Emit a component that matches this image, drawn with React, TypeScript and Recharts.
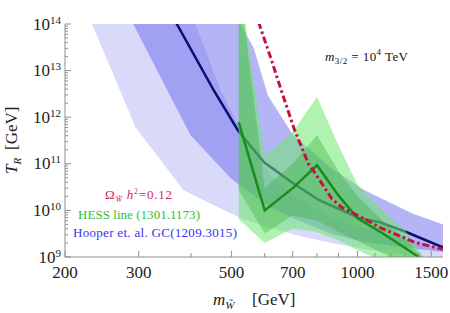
import React from "react";
import { ComposedChart, Area, Line, XAxis, YAxis } from "recharts";

const W = 450;
const H = 313;
const SERIF = "Liberation Serif, Times New Roman, Times, serif";
const FRAME = "#8f8f8f";

// axes
const xTicks = [200, 300, 400, 500, 600, 700, 800, 900, 1000, 1100, 1200, 1300, 1400, 1500];
const xLabels = [200, 300, 500, 700, 1000, 1500];
const yDecades = [9, 10, 11, 12, 13, 14];
const yMinor = [2, 3, 4, 5, 6, 7, 8, 9];

// Hooper et al. GC, wide light band (mass GeV, T_R GeV)
const gcWideMass = [232, 295, 384, 410, 471, 526, 621, 733, 866, 1080, 1348, 1617];
const gcWideLow = [1e14, 6.0e11, 2.7e10, 2.0e10, 1.1e10, 6.8e9, 4.2e9, 2.8e9, 2.0e9, 1.4e9, 1.05e9, 8.5e8];
const gcWideHigh = [1e16, 1e16, 5e14, 1e14, 3.8e12, 5.2e11, 5.6e10, 1.65e10, 7.1e9, 3.7e9, 2.3e9, 1.4e9];

// Hooper et al. GC, second band
const gcMidMass = [291, 399, 498, 526, 565, 611, 702, 866, 1039, 1348, 1617];
const gcMidLow = [1e14, 4.1e11, 4.9e10, 3.3e10, 2.1e10, 1.23e10, 6.8e9, 3.1e9, 2.1e9, 1.55e9, 1.26e9];
const gcMidHigh = [1e16, 1e16, 3e14, 1e14, 3.0e13, 2.9e12, 4.1e11, 8.0e10, 2.7e10, 8.7e9, 4.8e9];

// GC best fit line
const gcLineMass = [350, 370, 453, 518, 598, 702, 810, 1011, 1129, 1311, 1617];
const gcLineTR = [2.5e14, 1e14, 3.8e12, 5.2e11, 1.08e11, 3.8e10, 1.65e10, 6.8e9, 5.6e9, 3.4e9, 1.54e9];

// HESS line bands
const hessMass = [520, 600, 700, 800, 900, 1000, 1150, 1300, 1400, 1500];
const hessOuterLow = [6.5e9, 2.0e9, 4.1e9, 3.4e9, 2.3e9, 1.4e9, 8e8, 5e8, 4e8, 3e8];
const hessOuterHigh = [1e15, 1.5e11, 4.8e11, 2.7e12, 2.5e11, 3.5e10, 1.0e10, 3.7e9, 1.4e9, 6e8];
const hessInnerLow = [2.7e10, 3.2e9, 7.9e9, 6e9, 3.5e9, 2.2e9, 1.2e9, 7e8, 5e8, 4e8];
const hessInnerHigh = [1e15, 3e10, 1.0e11, 4.1e11, 7e10, 2.0e10, 6e9, 2.5e9, 1.2e9, 6e8];

// HESS central line
const hessLineMass = [520, 600, 700, 800, 900, 1000, 1150, 1400, 1500];
const hessLineTR = [7.8e11, 1.0e10, 3.0e10, 9.3e10, 2.1e10, 6.8e9, 3.2e9, 1.0e9, 6e8];

// relic abundance Omega h^2 = 0.12
const relicMass = [580, 620, 657, 706, 763, 784, 867, 915, 1022, 1142, 1370, 1600];
const relicTR = [1.1e14, 1.9e13, 3.8e12, 5.5e11, 1.0e11, 7.2e10, 1.8e10, 1.17e10, 7.1e9, 4.1e9, 2.07e9, 1.46e9];

const band = (mass: number[], lo: number[], hi: number[]) =>
  mass.map((m, i) => ({ m, r: [lo[i], hi[i]] }));
const curve = (mass: number[], t: number[]) => mass.map((m, i) => ({ m, t: t[i] }));

const gcWide = band(gcWideMass, gcWideLow, gcWideHigh);
const gcMid = band(gcMidMass, gcMidLow, gcMidHigh);
const gcLine = curve(gcLineMass, gcLineTR);
const hessOuter = band(hessMass, hessOuterLow, hessOuterHigh);
const hessInner = band(hessMass, hessInnerLow, hessInnerHigh);
const hessLine = curve(hessLineMass, hessLineTR);
const relic = curve(relicMass, relicTR);

const yTicks: number[] = [];
yDecades.forEach((d) => {
  yTicks.push(10 ** d);
  if (d < 14) yMinor.forEach((k) => yTicks.push(k * 10 ** d));
});

const isMajorY = (v: number) => {
  const e = Math.log10(v);
  return Math.abs(e - Math.round(e)) < 1e-6;
};

const BottomTick = ({ x, y, payload }: any) => {
  const major = xLabels.includes(payload.value);
  return (
    <g>
      <line x1={x} y1={y} x2={x} y2={y - (major ? 6 : 4)} stroke={FRAME} />
      {major && (
        <text x={x} y={y + 21} textAnchor="middle" style={{ fontFamily: SERIF }} fontSize={17} fill="#222">
          {payload.value}
        </text>
      )}
    </g>
  );
};

const TopTick = ({ x, y, payload }: any) => {
  const major = xLabels.includes(payload.value);
  return <line x1={x} y1={y} x2={x} y2={y + (major ? 6 : 4)} stroke={FRAME} />;
};

const LeftTick = ({ x, y, payload }: any) => {
  const major = isMajorY(payload.value);
  return (
    <g>
      <line x1={x} y1={y} x2={x + (major ? 6 : 3)} y2={y} stroke={FRAME} />
      {major && (
        <text x={x - 4} y={y + 5.5} textAnchor="end" style={{ fontFamily: SERIF }} fontSize={17} fill="#222">
          10
          <tspan dy={-6} fontSize={11}>
            {Math.round(Math.log10(payload.value))}
          </tspan>
        </text>
      )}
    </g>
  );
};

const RightTick = ({ x, y, payload }: any) => {
  const major = isMajorY(payload.value);
  return <line x1={x} y1={y} x2={x - (major ? 6 : 3)} y2={y} stroke={FRAME} />;
};

export default function App() {
  return (
    <div style={{ position: "absolute", left: 0, top: 0, width: W, height: H, background: "#fff" }}>
      <ComposedChart width={W} height={H} margin={{ top: 24, right: 7, bottom: 0, left: 0 }}>
        <XAxis
          xAxisId="b"
          dataKey="m"
          type="number"
          scale="log"
          domain={[200, 1600]}
          allowDataOverflow
          ticks={xTicks}
          interval={0}
          height={56}
          tickSize={0}
          tickMargin={0}
          tickLine={false}
          axisLine={{ stroke: FRAME }}
          tick={<BottomTick />}
        />
        <XAxis
          xAxisId="t"
          orientation="top"
          dataKey="m"
          type="number"
          scale="log"
          domain={[200, 1600]}
          allowDataOverflow
          ticks={xTicks}
          interval={0}
          height={0}
          tickSize={0}
          tickMargin={0}
          tickLine={false}
          axisLine={{ stroke: FRAME }}
          tick={<TopTick />}
        />
        <YAxis
          yAxisId="l"
          type="number"
          scale="log"
          domain={[1e9, 1e14]}
          allowDataOverflow
          ticks={yTicks}
          interval={0}
          width={65}
          tickSize={0}
          tickMargin={0}
          tickLine={false}
          axisLine={{ stroke: FRAME }}
          tick={<LeftTick />}
        />
        <YAxis
          yAxisId="r"
          orientation="right"
          type="number"
          scale="log"
          domain={[1e9, 1e14]}
          allowDataOverflow
          ticks={yTicks}
          interval={0}
          width={0}
          tickSize={0}
          tickMargin={0}
          tickLine={false}
          axisLine={{ stroke: FRAME }}
          tick={<RightTick />}
        />

        <Area xAxisId="b" yAxisId="l" data={gcWide} dataKey="r" type="linear" fill="#b4b4f6" fillOpacity={0.5} stroke="none" isAnimationActive={false} zIndex={100} />
        <Area xAxisId="b" yAxisId="l" data={gcMid} dataKey="r" type="linear" fill="#6a6aee" fillOpacity={0.5} stroke="none" isAnimationActive={false} zIndex={101} />
        <Line xAxisId="b" yAxisId="l" data={gcLine} dataKey="t" type="linear" stroke="#0d0d73" strokeWidth={2.5} dot={false} isAnimationActive={false} zIndex={150} />
        <Area xAxisId="b" yAxisId="l" data={hessOuter} dataKey="r" type="linear" fill="#70e870" fillOpacity={0.55} stroke="none" isAnimationActive={false} zIndex={200} />
        <Area xAxisId="b" yAxisId="l" data={hessInner} dataKey="r" type="linear" fill="#30b030" fillOpacity={0.35} stroke="none" isAnimationActive={false} zIndex={201} />
        <Line xAxisId="b" yAxisId="l" data={hessLine} dataKey="t" type="linear" stroke="#1a8c1a" strokeWidth={2.5} dot={false} isAnimationActive={false} zIndex={400} />
        <Line xAxisId="b" yAxisId="l" data={relic} dataKey="t" type="linear" stroke="#c8103c" strokeWidth={3} strokeDasharray="7 3 2.5 3" dot={false} isAnimationActive={false} zIndex={401} />
      </ComposedChart>

      <svg width={W} height={H} style={{ position: "absolute", left: 0, top: 0, pointerEvents: "none", fontFamily: SERIF }}>
        <text x={325} y={61} fontSize={13} fill="#111" textLength={83} lengthAdjust="spacing">
          <tspan fontStyle="italic">m</tspan>
          <tspan dy={3} fontSize={9}>3/2</tspan>
          <tspan dy={-3}> = 10</tspan>
          <tspan dy={-6} fontSize={9}>4</tspan>
          <tspan dy={6}> TeV</tspan>
        </text>

        <text x={105} y={199} fontSize={13} fill="#d0285a" textLength={67} lengthAdjust="spacing">
          Ω
          <tspan dy={3} fontSize={8} fontStyle="italic">W̃</tspan>
          <tspan dy={-3} fontStyle="italic"> h</tspan>
          <tspan dy={-5} fontSize={8}>2</tspan>
          <tspan dy={5}>=0.12</tspan>
        </text>
        <text x={78} y={219} fontSize={13} fill="#2fbf2f" textLength={122} lengthAdjust="spacing">
          HESS line (1301.1173)
        </text>
        <text x={73} y={237} fontSize={13} fill="#3434f0" textLength={164} lengthAdjust="spacing">
          Hooper et. al. GC(1209.3015)
        </text>

        <text x={213} y={305} fontSize={17} fill="#222">
          <tspan fontStyle="italic">m</tspan>
          <tspan dy={4} fontSize={11} fontStyle="italic">W̃</tspan>
          <tspan dy={-4} x={252}>[GeV]</tspan>
        </text>

        <text transform="translate(17,174) rotate(-90)" fontSize={17} fill="#222">
          <tspan fontStyle="italic">T</tspan>
          <tspan dy={4} fontSize={11} fontStyle="italic">R</tspan>
          <tspan dy={-4} x={24}>[GeV]</tspan>
        </text>
      </svg>
    </div>
  );
}
